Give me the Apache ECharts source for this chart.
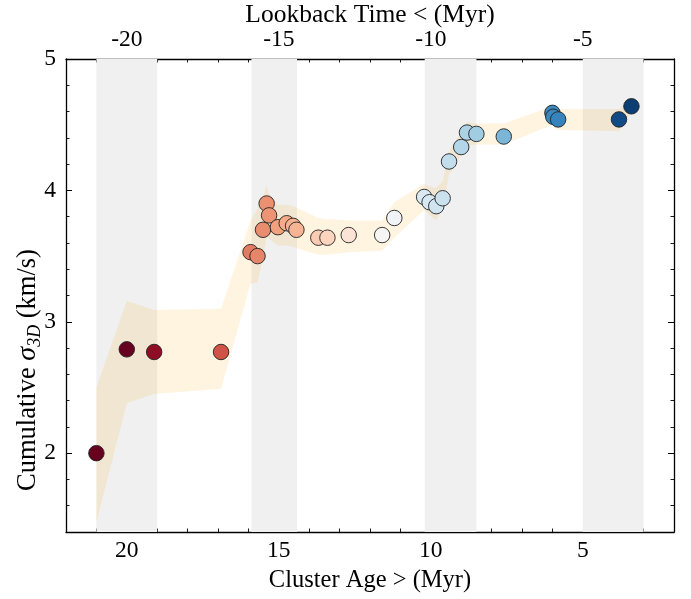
<!DOCTYPE html>
<html><head><meta charset="utf-8">
<script src="https://cdn.jsdelivr.net/npm/echarts@6/dist/echarts.min.js"></script>
<style>html,body{margin:0;padding:0;background:#fff}#c{width:691px;height:599px}</style>
</head><body><div id="c"></div>
<script>
// Cluster ages (Myr) and cumulative 3D velocity dispersion (km/s)
const clusterAge = [21.0, 20.0, 19.1, 16.9, 15.93, 15.7, 15.52, 15.4, 15.32, 15.03, 14.74, 14.53, 14.42, 13.7, 13.4, 12.7, 11.6, 11.2, 10.22, 10.04, 9.82, 9.61, 9.40, 9.0, 8.81, 8.5, 7.6, 6.0, 5.97, 5.81, 3.81, 3.40];
const sigma3D    = [2.00, 2.79, 2.77, 2.77, 3.53, 3.50, 3.70, 3.90, 3.81, 3.72, 3.75, 3.73, 3.70, 3.64, 3.64, 3.66, 3.66, 3.79, 3.95, 3.91, 3.88, 3.94, 4.22, 4.33, 4.44, 4.43, 4.41, 4.59, 4.56, 4.54, 4.54, 4.64];
// uncertainty envelope (upper / lower edges) at each age
const sigmaUpper = [2.50, 3.16, 3.09, 3.10, 3.77, 3.86, 3.95, 4.04, 3.97, 3.89, 3.89, 3.88, 3.87, 3.79, 3.78, 3.77, 3.77, 3.91, 4.05, 4.03, 4.02, 4.07, 4.30, 4.44, 4.52, 4.51, 4.51, 4.64, 4.63, 4.62, 4.62, 4.69];
const sigmaLower = [1.47, 2.38, 2.45, 2.49, 3.29, 3.30, 3.48, 3.65, 3.63, 3.58, 3.58, 3.57, 3.56, 3.51, 3.51, 3.53, 3.54, 3.64, 3.85, 3.81, 3.77, 3.86, 4.12, 4.27, 4.34, 4.35, 4.35, 4.50, 4.48, 4.46, 4.45, 4.59];
// grey shaded age intervals
const shadeStart = [21.0, 15.9, 10.2, 5.0];
const shadeEnd   = [19.0, 14.4, 8.5, 3.0];
// axis ranges
const ageRange = [2, 22];
const lookbackRange = [-22, -2];
const sigmaRange = [1.4, 5];
const rdbu = ['#053061','#2166ac','#4393c3','#92c5de','#d1e5f0','#f7f7f7','#fddbc7','#f4a582','#d6604d','#b2182b','#67001f'];

const FONT = "'Liberation Serif', 'DejaVu Serif', serif";
const TICK_FS = 23.5;
const TITLE_FS = 24.5;
const chart = echarts.init(document.getElementById('c'), null, {renderer: 'canvas'});

function axisCommon(extra) {
  return Object.assign({
    type: 'value',
    splitNumber: 4,
    splitLine: {show: false},
    axisLine: {show: true, onZero: false, lineStyle: {color: '#000', width: 1.3}},
    axisTick: {show: true, inside: true, length: 6, lineStyle: {color: '#000', width: 1}},
    minorTick: {show: true, splitNumber: 5, length: 3.5, lineStyle: {color: '#000', width: 0.9}},
    minorSplitLine: {show: false},
    axisLabel: {show: true, color: '#000', fontFamily: FONT, fontSize: TICK_FS, showMinLabel: false, showMaxLabel: false},
    nameTextStyle: {color: '#000', fontFamily: FONT, fontSize: TITLE_FS}
  }, extra);
}

const scatterData = clusterAge.map((a, i) => [a, sigma3D[i]]);
const shadeData = shadeStart.map((s, i) => [s, shadeEnd[i]]);

chart.setOption({
  animation: false,
  backgroundColor: '#fff',
  grid: {left: 66, right: 17, top: 59, bottom: 67, containLabel: false, outerBoundsMode: 'none'},
  xAxis: [
    axisCommon({position: 'bottom', min: ageRange[0], max: ageRange[1], inverse: true,
      name: 'Cluster Age > (Myr)', nameLocation: 'middle', nameGap: 34,
      axisLabel: {show: true, color: '#000', fontFamily: FONT, fontSize: TICK_FS, margin: 7, showMinLabel: false, showMaxLabel: false}}),
    axisCommon({position: 'top', min: lookbackRange[0], max: lookbackRange[1],
      name: 'Lookback Time < (Myr)', nameLocation: 'middle', nameGap: 31, nameMoveOverlap: false,
      nameTextStyle: {color: '#000', fontFamily: FONT, fontSize: 25.5},
      axisLabel: {show: true, color: '#000', fontFamily: FONT, fontSize: TICK_FS, margin: 7, showMinLabel: false, showMaxLabel: false}})
  ],
  yAxis: [
    axisCommon({position: 'left', min: sigmaRange[0], max: sigmaRange[1],
      axisLabel: {show: true, color: '#000', fontFamily: FONT, fontSize: TICK_FS, margin: 10, showMinLabel: false, showMaxLabel: true}}),
    axisCommon({position: 'right', min: sigmaRange[0], max: sigmaRange[1], axisLabel: {show: false}})
  ],
  visualMap: {
    show: false, type: 'continuous', seriesIndex: 2, dimension: 0,
    min: 3, max: 20, inRange: {color: rdbu}
  },
  graphic: [{
    type: 'text', x: 28, y: 370, rotation: Math.PI / 2,
    style: {
      text: '{a|Cumulative }{s|σ}{b|3D}{a| (km/s)}',
      align: 'center', verticalAlign: 'middle', textAlign: 'center', textVerticalAlign: 'middle',
      fill: '#000',
      rich: {
        a: {fontFamily: FONT, fontSize: 26.5, color: '#000', lineHeight: 30},
        s: {fontFamily: FONT, fontSize: 28, fontStyle: 'italic', color: '#000', lineHeight: 30},
        b: {fontFamily: FONT, fontSize: 18, fontStyle: 'italic', color: '#000', lineHeight: 18, padding: [14, 0, 0, 0]}
      }
    }
  }],
  series: [
    {
      type: 'custom', name: 'shade', coordinateSystem: 'cartesian2d', xAxisIndex: 0, yAxisIndex: 0, z: 1,
      data: shadeData, silent: true,
      renderItem: function (params, api) {
        const cs = params.coordSys;
        const p1 = api.coord([api.value(0), sigmaRange[1]]);
        const p2 = api.coord([api.value(1), sigmaRange[0]]);
        const x0 = Math.min(p1[0], p2[0]), x1 = Math.max(p1[0], p2[0]);
        return {type: 'rect', shape: {x: x0, y: cs.y, width: x1 - x0, height: cs.height},
                style: {fill: '#f0f0f0'}};
      }
    },
    {
      type: 'custom', name: 'envelope', coordinateSystem: 'cartesian2d', xAxisIndex: 0, yAxisIndex: 0, z: 2,
      data: [[clusterAge[0], sigma3D[0]]], silent: true,
      renderItem: function (params, api) {
        const up = clusterAge.map((a, i) => api.coord([a, sigmaUpper[i]]));
        const lo = clusterAge.map((a, i) => api.coord([a, sigmaLower[i]])).reverse();
        return {type: 'polygon', shape: {points: up.concat(lo)},
                style: {fill: 'rgba(255,165,0,0.12)', stroke: 'none'}};
      }
    },
    {
      type: 'scatter', name: 'sigma', xAxisIndex: 0, yAxisIndex: 0, z: 3,
      data: scatterData, symbol: 'circle', symbolSize: 15.5,
      itemStyle: {borderColor: '#222', borderWidth: 0.9, opacity: 1}
    }
  ]
});
</script>
</body></html>
